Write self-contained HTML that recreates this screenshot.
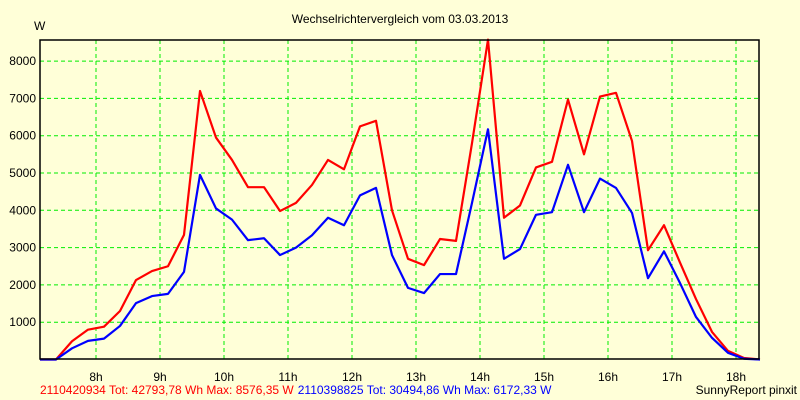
<!DOCTYPE html>
<html><head><meta charset="utf-8"><style>
body{margin:0;background:#ffffd8;}
svg{display:block;font-family:"Liberation Sans",Arial,sans-serif;font-size:12px;}
</style></head><body>
<svg id="chart" width="800" height="400" viewBox="0 0 800 400">
<rect x="0" y="0" width="800" height="400" fill="#ffffd8"/>
<text x="400" y="23" text-anchor="middle" fill="#000">Wechselrichtervergleich vom 03.03.2013</text>
<text x="34" y="30" fill="#000">W</text>
<g id="grid"></g>
<g id="series"></g>
<rect x="40" y="40" width="719" height="319" fill="none" stroke="#000" stroke-width="1.5"/>
<g id="labels"></g>
<text x="40" y="394"><tspan fill="#ff0000">2110420934 Tot: 42793,78 Wh Max: 8576,35 W</tspan><tspan fill="#0000ff" dx="4">2110398825 Tot: 30494,86 Wh Max: 6172,33 W</tspan></text>
<text x="797" y="394" text-anchor="end" fill="#000">SunnyReport pinxit</text>
</svg>
<script>
const hourTicks=[8,9,10,11,12,13,14,15,16,17,18];
const yTicks=[1000,2000,3000,4000,5000,6000,7000,8000];
const redValues=[0,0,490,800,880,1300,2130,2370,2500,3340,7200,5950,5350,4620,4620,3980,4200,4680,5350,5100,6250,6400,4000,2700,2530,3230,3180,5800,8576,3800,4130,5150,5300,6970,5500,7050,7150,5860,2930,3600,2600,1620,740,230,40,0];
const blueValues=[0,0,300,500,560,900,1510,1700,1760,2350,4950,4050,3750,3200,3250,2800,3000,3330,3800,3600,4400,4600,2800,1920,1780,2290,2290,4200,6172,2700,2960,3880,3950,5220,3950,4850,4600,3930,2180,2900,2050,1140,580,180,20,0];
const startHour=7.125, stepHours=0.25;
const X=h=>96+(h-8)*64;
const Y=v=>359.5-v*0.0373;
const NS="http://www.w3.org/2000/svg";
const grid=document.getElementById('grid'),labels=document.getElementById('labels'),series=document.getElementById('series');
hourTicks.forEach(h=>{
  const l=document.createElementNS(NS,'line');
  l.setAttribute('x1',X(h));l.setAttribute('x2',X(h));l.setAttribute('y1',40);l.setAttribute('y2',359);
  l.setAttribute('stroke','#00ee00');l.setAttribute('stroke-dasharray','4,3');
  
  
  grid.appendChild(l);
  const t=document.createElementNS(NS,'text');
  t.setAttribute('x',X(h));t.setAttribute('y',381);t.setAttribute('text-anchor','middle');
  t.textContent=h+'h';
  
  
  labels.appendChild(t);
});
yTicks.forEach(v=>{
  const l=document.createElementNS(NS,'line');
  l.setAttribute('x1',40);l.setAttribute('x2',759);l.setAttribute('y1',Y(v));l.setAttribute('y2',Y(v));
  l.setAttribute('stroke','#00ee00');l.setAttribute('stroke-dasharray','4,3');
  
  
  grid.appendChild(l);
  const t=document.createElementNS(NS,'text');
  t.setAttribute('x',36);t.setAttribute('y',Y(v)+4);t.setAttribute('text-anchor','end');
  t.textContent=v;
  
  
  labels.appendChild(t);
});
function line(vals,color,name){
  const p=document.createElementNS(NS,'polyline');
  p.setAttribute('points',vals.map((v,i)=>X(startHour+i*stepHours)+','+Y(v)).join(' '));
  p.setAttribute('fill','none');p.setAttribute('stroke',color);p.setAttribute('stroke-width','2.2');
  p.setAttribute('stroke-linejoin','round');
  
  
  series.appendChild(p);
}
line(redValues,'#ff0000','series-2110420934');
line(blueValues,'#0000ff','series-2110398825');
</script>
</body></html>
